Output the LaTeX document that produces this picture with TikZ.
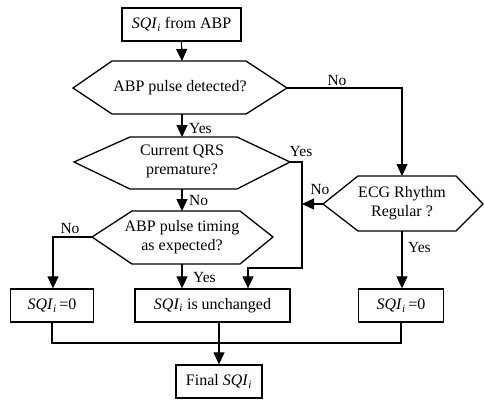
\documentclass[tikz,border=0pt]{standalone}
\usepackage{fontspec}
\setmainfont{Liberation Serif}
\usetikzlibrary{arrows.meta}
\newcommand{\SQIi}{\textit{SQI}\textsubscript{\textit{i}}}
\begin{document}
\begin{tikzpicture}[x=1pt,y=-1pt,
  ln/.style={line width=1.2pt},
  arr/.style={ln,-{Triangle[width=11pt,length=12pt]}},
  hexs/.style={line width=1.3pt, line join=miter},
  boxs/.style={draw,line width=1.3pt,minimum height=33pt,inner sep=0pt,font=\fontsize{16}{19}\selectfont},
  txt/.style={align=center,inner sep=0pt,font=\fontsize{16}{19}\selectfont},
  lbl/.style={inner sep=0pt,font=\fontsize{15.5}{18}\selectfont}]
\useasboundingbox (0,0) rectangle (484,399);

% top box
\node[boxs,minimum width=119pt] (top) at (181.5,24.5) {\SQIi{} from ABP};

% hexagon 1
\coordinate (h1w) at (73,88); \coordinate (h1e) at (287,88);
\coordinate (h1n) at (182,61); \coordinate (h1s) at (182,114);
\draw[hexs] (h1w) -- (112,61) -- (246,61) -- (h1e) -- (246,114) -- (112,114) -- cycle;
\node[txt] (h1) at (180,88) {ABP pulse detected?};

% hexagon 2
\coordinate (h2w) at (74,162); \coordinate (h2e) at (290,162);
\coordinate (h2n) at (182,137); \coordinate (h2s) at (182,189);
\draw[hexs] (h2w) -- (130,137) -- (237,137) -- (h2e) -- (237,189) -- (130,189) -- cycle;
\node[txt] (h2) at (182,161) {Current QRS\\premature?};

% hexagon 3
\coordinate (h3w) at (92,237); \coordinate (h3e) at (273,237);
\coordinate (h3n) at (182,211); \coordinate (h3s) at (182,264);
\draw[hexs] (h3w) -- (132,211) -- (240,211) -- (h3e) -- (240,264) -- (132,264) -- cycle;
\node[txt] (h3) at (182,237) {ABP pulse timing\\as expected?};

% ECG hexagon
\coordinate (h4w) at (323,204); \coordinate (h4e) at (483,204);
\coordinate (h4n) at (402,176); \coordinate (h4s) at (402,231);
\draw[hexs] (h4w) -- (358,176) -- (456,176) -- (h4e) -- (456,231) -- (358,231) -- cycle;
\node[txt] (h4) at (402,203) {ECG Rhythm\\Regular ?};

% result boxes
\node[boxs,minimum width=83pt] (lbox) at (52,305.5) {\SQIi\,=0};
\node[boxs,minimum width=155pt] (mbox) at (212.5,305.5) {\SQIi{} is unchanged};
\node[boxs,minimum width=85pt] (rbox) at (401,305.5) {\SQIi\,=0};
\node[boxs,minimum width=86pt] (fin) at (219,381.5) {Final \SQIi};

% connectors
\draw[arr] (top.south) -- (h1n);
\draw[arr] (h1s) -- (h2n);
\node[lbl,anchor=west] (y1) at (189,128) {Yes};
\coordinate (c1) at (402,88);
\draw[arr] (h1e) -- (c1) -- (h4n);
\node[lbl] (n1) at (337,80) {No};

\draw[arr] (h2s) -- (h3n);
\node[lbl,anchor=west] (n2) at (189,200) {No};

\coordinate (c2) at (302,162);
\coordinate (c3) at (302,268);
\coordinate (c4) at (248,268);
\draw[arr] (h2e) -- (c2) -- (c3) -- (c4) -- (c4 |- mbox.north);
\node[lbl] (y2) at (301,151) {Yes};

\coordinate (c5) at (302,204);
\draw[arr] (h4w) -- (c5);
\node[lbl] (n4) at (320,189) {No};

\coordinate (c6) at (53,237);
\draw[arr] (h3w) -- (c6) -- (c6 |- lbox.north);
\node[lbl] (n3) at (70,228) {No};

\draw[arr] (h3s) -- (h3s |- mbox.north);
\node[lbl,anchor=west] (y3) at (193,277) {Yes};

\draw[arr] (h4s) -- (h4s |- rbox.north);
\node[lbl,anchor=west] (y4) at (408,247) {Yes};

\coordinate (j) at (52,343);
\draw[ln] (lbox.south) -- (j) -- (j -| rbox.south) -- (rbox.south);
\coordinate (m) at (219,322);
\draw[arr] (m) -- (fin.north);
\end{tikzpicture}
\end{document}
